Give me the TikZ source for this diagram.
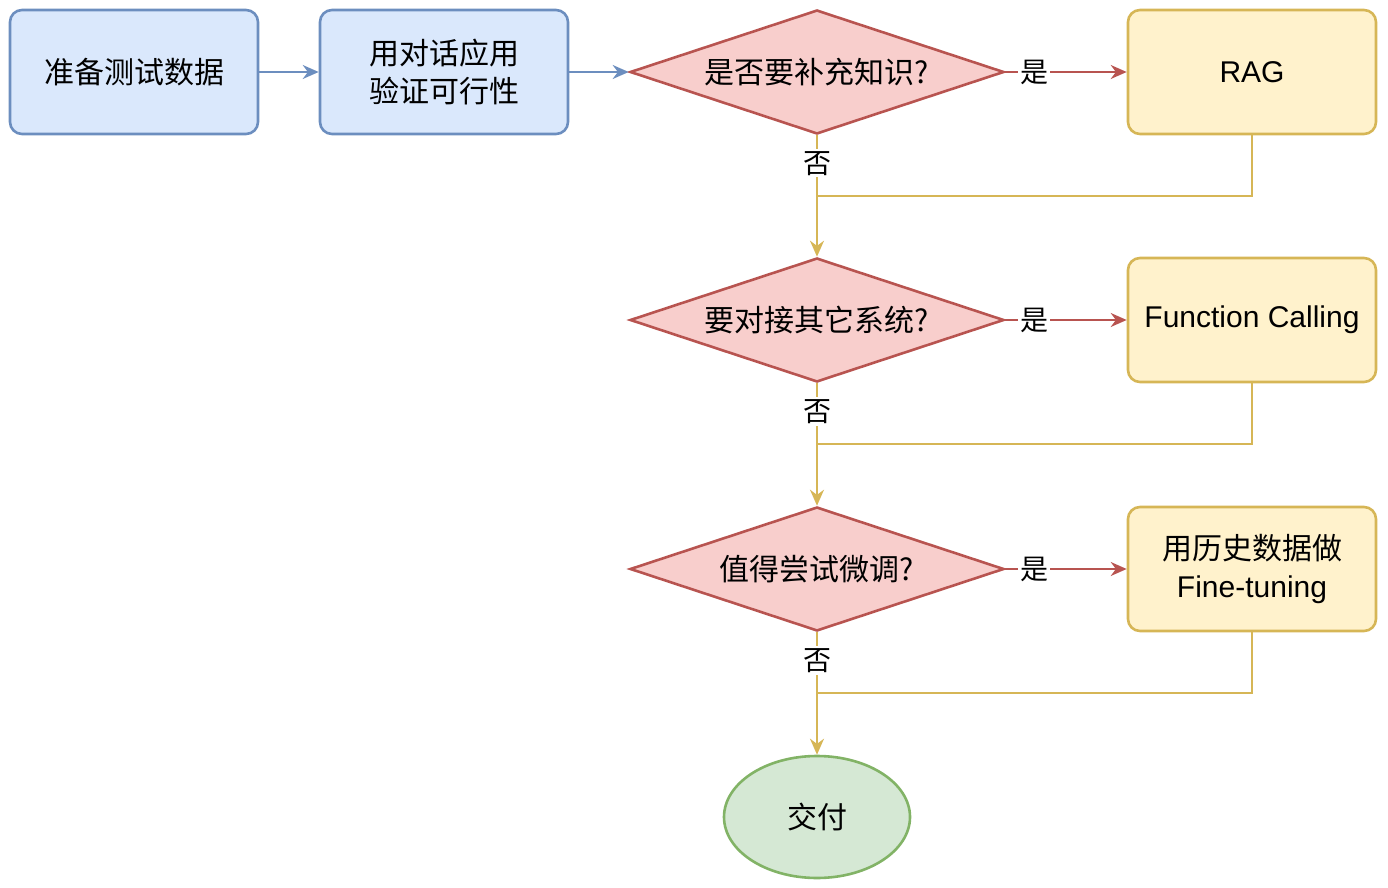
\documentclass[tikz,border=0pt]{standalone}
\usepackage{fontspec}
\setmainfont{Liberation Sans}
\newfontfamily\cjk{Noto Sans CJK SC}
\usetikzlibrary{shapes.geometric,arrows.meta}
\definecolor{bfill}{HTML}{dae8fc}
\definecolor{bline}{HTML}{6c8ebf}
\definecolor{rfill}{HTML}{f8cecc}
\definecolor{rline}{HTML}{b85450}
\definecolor{yfill}{HTML}{fff2cc}
\definecolor{yline}{HTML}{d6b656}
\definecolor{gfill}{HTML}{d5e8d4}
\definecolor{gline}{HTML}{82b366}
\tikzset{
  stage/.style = {rectangle, rounded corners=6pt, line width=1.3pt, minimum width=124pt, minimum height=62pt, align=center, font=\fontsize{15}{19}\selectfont\cjk},
  plain/.style = {stage, fill=bfill, draw=bline},
  extra/.style = {stage, fill=yfill, draw=yline},
  ask/.style = {diamond, line width=1.3pt, fill=rfill, draw=rline, minimum width=187pt, minimum height=62pt, inner sep=0pt},
  finish/.style = {ellipse, line width=1.3pt, fill=gfill, draw=gline, minimum width=93pt, minimum height=61pt, font=\fontsize{15}{19}\selectfont\cjk},
  arrow/.style = {line width=1.1pt, -{Stealth[length=8pt,width=7pt]}},
  tag/.style = {fill=white, text=black, inner sep=1pt, font=\fontsize{14}{16}\selectfont\cjk}
}
\begin{document}
\begin{tikzpicture}[x=0.5pt, y=-0.5pt]
\useasboundingbox (0,0) rectangle (1388,888);

\node (data) [plain] at (134,72) {准备测试数据};
\node (chat) [plain] at (444,72) {用对话应用\\验证可行性};

\node (know) [ask] at (817,72) {};
\node [font=\fontsize{15}{19}\selectfont\cjk] at (know) {是否要补充知识?};
\node (link) [ask] at (817,320) {};
\node [font=\fontsize{15}{19}\selectfont\cjk] at (link) {要对接其它系统?};
\node (tune) [ask] at (817,569) {};
\node [font=\fontsize{15}{19}\selectfont\cjk] at (tune) {值得尝试微调?};

\node (rag) [extra, font=\fontsize{15}{19}\selectfont] at (1252,72) {RAG};
\node (call) [extra, font=\fontsize{15}{19}\selectfont] at (1252,320) {Function Calling};
\node (ft) [extra] at (1252,569) {用历史数据做\\{\rmfamily Fine-tuning}};

\node (done) [finish] at (817,817) {交付};

\coordinate (j1) at (817,196);
\coordinate (j2) at (817,444);
\coordinate (j3) at (817,693);

% main line
\draw[arrow, bline] (data) -- (chat);
\draw[arrow, bline] (chat) -- (know);

% yes branches
\draw[arrow, rline] (know) -- node[tag, pos=0.24] {是} (rag);
\draw[arrow, rline] (link) -- node[tag, pos=0.24] {是} (call);
\draw[arrow, rline] (tune) -- node[tag, pos=0.24] {是} (ft);

% no branches
\draw[arrow, yline] (know) -- node[tag, pos=0.23] {否} (link);
\draw[arrow, yline] (link) -- node[tag, pos=0.23] {否} (tune);
\draw[arrow, yline] (tune) -- node[tag, pos=0.23] {否} (done);

\draw[line width=1.1pt, yline] (rag) |- (j1);
\draw[line width=1.1pt, yline] (call) |- (j2);
\draw[line width=1.1pt, yline] (ft) |- (j3);
\end{tikzpicture}
\end{document}
